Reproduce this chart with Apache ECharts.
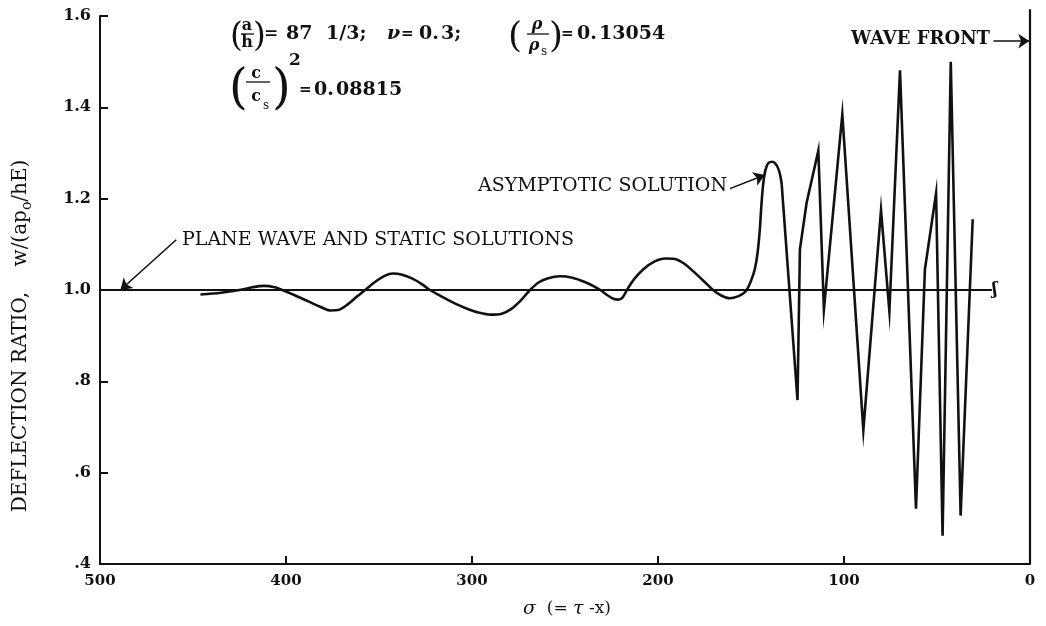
<!DOCTYPE html>
<html>
<head>
<meta charset="utf-8">
<script src="https://cdn.jsdelivr.net/npm/echarts@6/dist/echarts.min.js"></script>
<style>
  html, body { margin: 0; padding: 0; background: #fff; }
  #chart { width: 1046px; height: 626px; }
</style>
</head>
<body>
<div id="chart"></div>
<script>
// Slowly varying part of the asymptotic solution (sigma, w ratio)
const sigmaSmooth = [446, 435, 425, 418, 412, 406, 402, 395, 388, 382, 376, 372, 367, 362, 357.5, 352, 347, 342.5,
  338, 332, 327, 322.6, 316, 309, 302, 296, 290, 284, 279, 274, 268.8, 264, 259, 252.7, 246, 239, 234, 231,
  227, 224, 221.3, 219, 216.7, 213, 208, 202, 196, 191, 186, 180, 175, 170.4, 166, 161.3, 157, 154, 152.3,
  150, 148, 146.5, 145.3, 144.5, 143.5, 142.3, 140.7, 138.5, 136.5, 135, 134, 133.5];
const deflSmooth = [0.990, 0.994, 1.000, 1.006, 1.009, 1.006, 1.000, 0.988, 0.975, 0.964, 0.955, 0.956, 0.968, 0.985, 1.000, 1.018, 1.031, 1.036,
  1.034, 1.025, 1.013, 1.000, 0.985, 0.970, 0.958, 0.950, 0.946, 0.948, 0.958, 0.976, 1.000, 1.017, 1.026, 1.030, 1.027, 1.017, 1.007, 1.000,
  0.988, 0.981, 0.979, 0.984, 1.000, 1.023, 1.045, 1.062, 1.069, 1.068, 1.058, 1.037, 1.018, 1.000, 0.988, 0.982, 0.986, 0.993, 1.000,
  1.020, 1.045, 1.080, 1.130, 1.180, 1.230, 1.262, 1.278, 1.281, 1.275, 1.262, 1.245, 1.232];

// Rapidly oscillating part near the wave front
const sigmaSpikes = [133.5, 125, 123.7, 120.1, 113.8, 110.8, 100.9, 89.6, 80.1, 75.6, 69.9, 61.3, 56.5, 50.5, 47, 42.6, 37.3, 30.8];
const deflSpikes = [1.232, 0.759, 1.089, 1.191, 1.305, 0.957, 1.385, 0.693, 1.175, 0.953, 1.481, 0.521, 1.045, 1.212, 0.462, 1.500, 0.506, 1.155];

// Plane wave and static solutions
const sigmaPlane = [500, 20.5];
const deflPlane = [1.0, 1.0];

// Wave front position
const sigmaFront = [0, 0];
const deflFront = [0.4, 1.615];

// Axis ticks
const xTickValues = [500, 400, 300, 200, 100, 0];
const xTickLabels = ['500', '400', '300', '200', '100', '0'];
const yTickValues = [0.4, 0.6, 0.8, 1.0, 1.2, 1.4, 1.6];
const yTickLabels = ['.4', '.6', '.8', '1.0', '1.2', '1.4', '1.6'];

const pairs = (xs, ys) => xs.map((x, i) => [x, ys[i]]);

const SERIF = '"DejaVu Serif", "Liberation Serif", serif';
const INK = '#111';

function nearestLabel(values, labels, v) {
  let best = 0;
  values.forEach((t, i) => { if (Math.abs(t - v) < Math.abs(values[best] - v)) best = i; });
  return labels[best];
}

const chart = echarts.init(document.getElementById('chart'), null, { renderer: 'canvas' });

function txt(x, y, text, size, opts) {
  opts = opts || {};
  return {
    type: 'text', x: x, y: y, z: 10,
    style: {
      text: text, fill: INK,
      font: (opts.italic ? 'italic ' : '') + (opts.weight || 'bold') + ' ' + size + 'px ' + SERIF,
      align: opts.align || 'left', verticalAlign: 'middle',
      textAlign: opts.align || 'left', textVerticalAlign: 'middle'
    }
  };
}
function bar(x1, x2, y) {
  return { type: 'line', z: 10, shape: { x1: x1, y1: y, x2: x2, y2: y }, style: { stroke: INK, lineWidth: 1.3 } };
}

// Parameter block at the top of the plot
const params = [
  // (a/h) = 87 1/3
  txt(230, 37, '(', 33, { weight: 'normal' }),
  txt(247, 26, 'a', 16, { align: 'center' }),
  bar(241, 254, 34),
  txt(247, 43, 'h', 16, { align: 'center' }),
  txt(253, 37, ')', 33, { weight: 'normal' }),
  txt(264, 34, '=', 17),
  txt(286, 34, '87', 19),
  txt(326, 34, '1/3;', 19),
  // nu = 0.3
  txt(387, 34, 'ν', 19, { italic: true }),
  txt(401, 34, '=', 15),
  txt(419, 34, '0.', 19),
  txt(441, 34, '3;', 19),
  // (rho / rho_s) = 0.13054
  txt(508, 38, '(', 36, { weight: 'normal' }),
  txt(537, 25, 'ρ', 16, { align: 'center', italic: true }),
  bar(527, 549, 34),
  txt(534, 46, 'ρ', 16, { align: 'center', italic: true }),
  txt(541, 52, 's', 12, { weight: 'normal' }),
  txt(549, 38, ')', 36, { weight: 'normal' }),
  txt(561, 34, '=', 15),
  txt(577, 34, '0.', 19),
  txt(599, 34, '13054', 19),
  // (c / c_s)^2 = 0.08815
  txt(229, 91, '(', 48, { weight: 'normal' }),
  txt(256, 74, 'c', 16, { align: 'center' }),
  bar(246, 270, 82),
  txt(256, 97, 'c', 16, { align: 'center' }),
  txt(263, 106, 's', 12, { weight: 'normal' }),
  txt(272, 91, ')', 48, { weight: 'normal' }),
  txt(289, 61, '2', 17),
  txt(299, 90, '=', 15),
  txt(314, 90, '0.', 19),
  txt(336, 90, '08815', 19)
];

// Annotation labels
const labels = [
  txt(182, 240, 'PLANE WAVE AND STATIC SOLUTIONS', 19, { weight: 'normal' }),
  txt(727, 186, 'ASYMPTOTIC SOLUTION', 19, { weight: 'normal', align: 'right' }),
  txt(990, 39, 'WAVE FRONT', 18, { weight: 'bold', align: 'right' }),
  // y-axis title, rotated
  {
    type: 'text', x: 21, y: 336, rotation: Math.PI / 2, z: 10,
    style: {
      text: 'DEFLECTION RATIO,    w/(ap{sub|o}/hE)',
      fill: INK, font: 'normal 20px ' + SERIF,
      align: 'center', verticalAlign: 'middle', textAlign: 'center', textVerticalAlign: 'middle',
      rich: { sub: { font: 'normal 14px ' + SERIF, fill: INK, padding: [12, 0, 0, 0] } }
    }
  },
  // x-axis title
  {
    type: 'text', x: 567, y: 609, z: 10,
    style: {
      text: '{s|σ}  (= {s|τ} -x)',
      fill: INK, font: 'normal 17px ' + SERIF,
      align: 'center', verticalAlign: 'middle', textAlign: 'center', textVerticalAlign: 'middle',
      rich: { s: { font: 'italic normal 19px ' + SERIF, fill: INK } }
    }
  }
];

const option = {
  animation: false,
  backgroundColor: '#fff',
  grid: { left: 100, right: 16, top: 16, bottom: 62, containLabel: false },
  xAxis: {
    type: 'value', min: 0, max: 500, interval: 100, inverse: true,
    axisLine: { show: true, onZero: false, lineStyle: { color: INK, width: 2 } },
    axisTick: { show: true, inside: true, length: 8, lineStyle: { color: INK, width: 2 } },
    splitLine: { show: false },
    axisLabel: {
      margin: 10, color: INK, fontFamily: SERIF, fontWeight: 'bold', fontSize: 15,
      formatter: v => nearestLabel(xTickValues, xTickLabels, v)
    }
  },
  yAxis: {
    type: 'value', min: 0.4, max: 1.6, interval: 0.2,
    axisLine: { show: true, onZero: false, lineStyle: { color: INK, width: 2 } },
    axisTick: { show: true, inside: true, length: 8, lineStyle: { color: INK, width: 2 } },
    splitLine: { show: false },
    axisLabel: {
      margin: 9, color: INK, fontFamily: SERIF, fontWeight: 'bold', fontSize: 16,
      formatter: v => nearestLabel(yTickValues, yTickLabels, v)
    }
  },
  graphic: params.concat(labels),
  series: [
    {
      name: 'plane', type: 'line', data: pairs(sigmaPlane, deflPlane),
      showSymbol: false, symbol: 'none',
      lineStyle: { color: INK, width: 2 },
      markLine: {
        silent: true, animation: false, label: { show: false },
        symbol: ['none', 'arrow'], symbolSize: 11,
        lineStyle: { color: INK, width: 1.6, type: 'solid' },
        data: [
          [{ coord: [459, 1.11] }, { coord: [489, 1.0] }],
          [{ coord: [161.3, 1.222] }, { coord: [142.6, 1.252] }],
          [{ coord: [19.6, 1.545] }, { coord: [0.4, 1.545] }]
        ]
      },
      markPoint: {
        silent: true, symbol: 'circle', symbolSize: 0,
        data: [{ coord: [19.5, 1.0] }],
        label: { show: true, position: 'inside', formatter: 'ʃ', color: INK, fontFamily: SERIF, fontWeight: 'bold', fontSize: 16, offset: [1, 0] }
      }
    },
    {
      name: 'front', type: 'line', data: pairs(sigmaFront, deflFront),
      showSymbol: false, symbol: 'none', clip: false,
      lineStyle: { color: INK, width: 2.2 }
    },
    {
      name: 'asymptotic-smooth', type: 'line', data: pairs(sigmaSmooth, deflSmooth),
      showSymbol: false, symbol: 'none', smooth: 0.3,
      lineStyle: { color: INK, width: 2.6 }
    },
    {
      name: 'asymptotic-spikes', type: 'line', data: pairs(sigmaSpikes, deflSpikes),
      showSymbol: false, symbol: 'none', smooth: false,
      lineStyle: { color: INK, width: 2.6, join: 'miter', miterLimit: 20 }
    }
  ]
};

chart.setOption(option);
</script>
</body>
</html>
